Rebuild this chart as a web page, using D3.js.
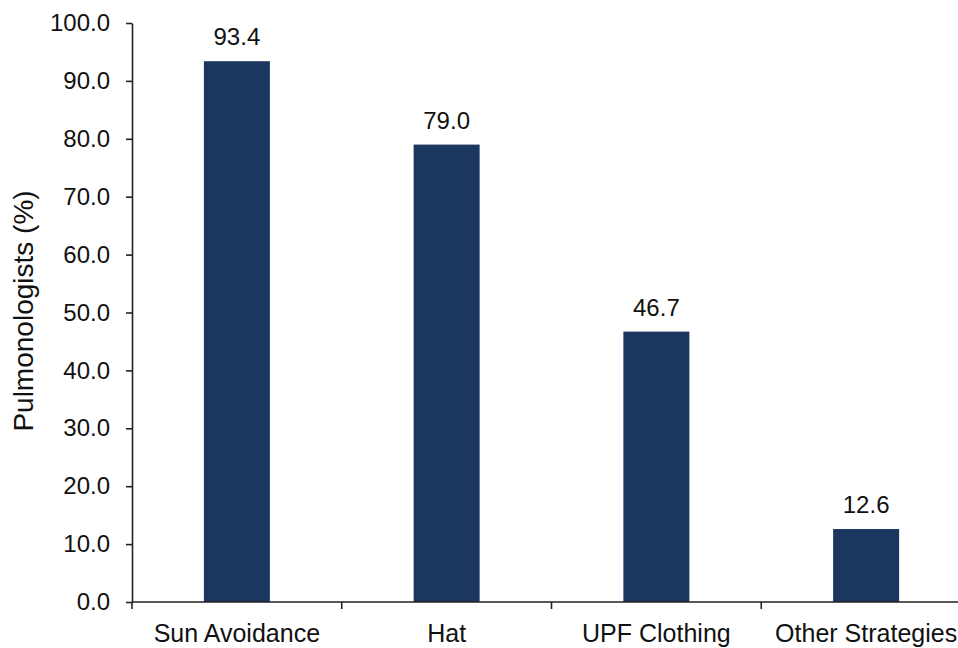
<!DOCTYPE html>
<html><head><meta charset="utf-8">
<script src="https://cdn.jsdelivr.net/npm/d3@7"></script>
<style>body{margin:0;background:#fff}svg{display:block}text{font-family:"Liberation Sans",Arial,sans-serif;fill:#111}</style>
</head><body><svg id="c" width="958" height="648"></svg>
<script>
const categories = ["Sun Avoidance", "Hat", "UPF Clothing", "Other Strategies"];
const values = [93.4, 79.0, 46.7, 12.6];
const yTicks = [0,10,20,30,40,50,60,70,80,90,100];
const yTitle = "Pulmonologists (%)";

(function(){
const svg = d3.select("#c");
const mL = 132, mT = 23, mB = 602, mR = 971;
const x = d3.scaleBand().domain(categories).range([mL, mR]).paddingInner(0).paddingOuter(0);
const y = d3.scaleLinear().domain([0,100]).range([mB, mT]);
const bw = 66;

svg.selectAll("rect.bar").data(values).enter().append("rect")
  .attr("x", (d,i)=>x(categories[i]) + x.bandwidth()/2 - bw/2)
  .attr("y", d=>y(d)).attr("width", bw).attr("height", d=>y(0)-y(d))
  .attr("fill", "#1b365f");

svg.selectAll("text.val").data(values).enter().append("text")
  .attr("x", (d,i)=>x(categories[i]) + x.bandwidth()/2)
  .attr("y", d=>y(d)-16).attr("text-anchor","middle")
  .attr("font-size", 24).text(d=>d.toFixed(1));

const ya = svg.append("g").attr("transform", `translate(${mL},0)`)
  .call(d3.axisLeft(y).tickValues(yTicks).tickFormat(d=>d.toFixed(1)).tickSize(6).tickSizeOuter(0).tickPadding(16));
ya.selectAll("text").attr("font-size", 24).style("fill","#111").attr("font-family",'"Liberation Sans",Arial,sans-serif');
ya.selectAll("line,path").attr("stroke","#222").attr("stroke-width",1.6);

const xa = svg.append("g").attr("transform", `translate(0,${mB})`);
xa.append("line").attr("x1", mL).attr("x2", mR).attr("stroke","#222").attr("stroke-width",1.6);
const boundaries = categories.slice(1).map(c=>x(c));
xa.selectAll("line.tk").data(boundaries).enter().append("line")
  .attr("x1", d=>d).attr("x2", d=>d).attr("y1",0).attr("y2",7).attr("stroke","#222").attr("stroke-width",1.6);
xa.append("line").attr("x1", mL).attr("x2", mL).attr("y1",0).attr("y2",7).attr("stroke","#222").attr("stroke-width",1.6);
xa.selectAll("text.cat").data(categories).enter().append("text")
  .attr("x", d=>x(d)+x.bandwidth()/2).attr("y", 40).attr("text-anchor","middle")
  .attr("font-size", 25).text(d=>d);

svg.append("text").attr("transform", `translate(33,311) rotate(-90)`)
  .attr("text-anchor","middle").attr("font-size", 28).text(yTitle);
})();
</script></body></html>
